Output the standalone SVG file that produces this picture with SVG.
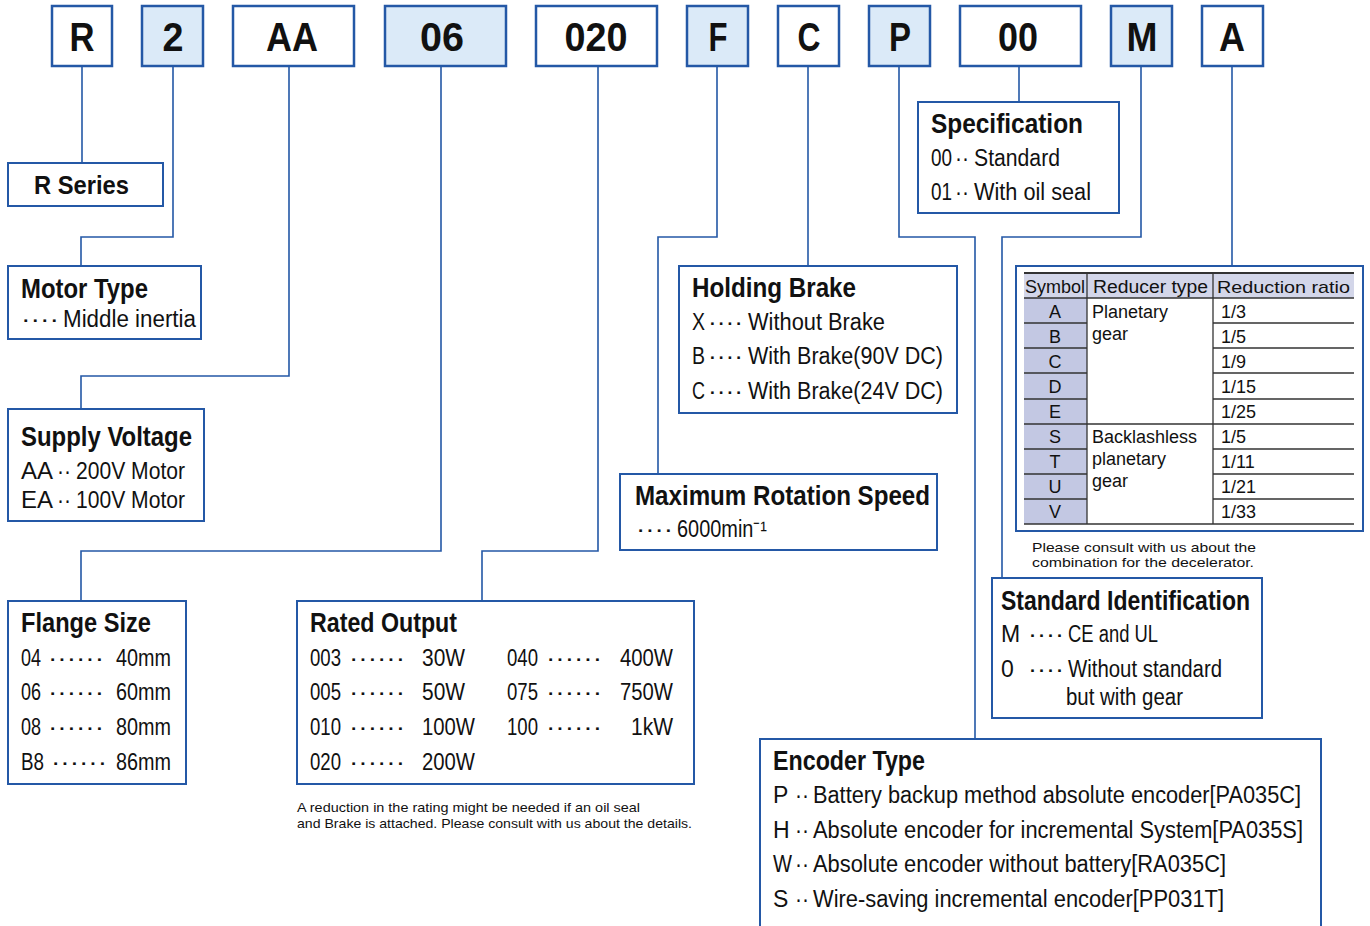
<svg xmlns="http://www.w3.org/2000/svg" width="1370" height="926" viewBox="0 0 1370 926">
<style>
text{font-family:"Liberation Sans",Arial,sans-serif;fill:#111}
.code{font-size:40px;font-weight:bold;text-anchor:middle}
.t{font-size:28px;font-weight:bold}
.b{font-size:23px}
.s{font-size:13px}
.tb{font-size:18px}
.box{fill:#fff;stroke:#2458a6;stroke-width:2}
.cb{fill:#fff;stroke:#2458a6;stroke-width:2.5}
.cbf{fill:#dbeaf8;stroke:#2458a6;stroke-width:2.5}
.con{fill:none;stroke:#2458a6;stroke-width:1.6}
.tl{stroke:#333;stroke-width:1.3}
.sym{text-anchor:middle}
</style>
<rect width="1370" height="926" fill="#fff"/>
<g id="connectors">
<polyline class="con" points="82,66 82,162"/>
<polyline class="con" points="173,66 173,237 81,237 81,266"/>
<polyline class="con" points="289,66 289,376 81,376 81,409"/>
<polyline class="con" points="441,66 441,551 81,551 81,601"/>
<polyline class="con" points="598,66 598,551 482,551 482,601"/>
<polyline class="con" points="717,66 717,237 658,237 658,474"/>
<polyline class="con" points="808,66 808,266"/>
<polyline class="con" points="899,66 899,237 975,237 975,739"/>
<polyline class="con" points="1019,66 1019,102"/>
<polyline class="con" points="1141,66 1141,237 1002,237 1002,578"/>
<polyline class="con" points="1232,66 1232,266"/>
</g>
<g id="code-R"><rect class="cb" x="52" y="6" width="60" height="60"/><text class="code" x="82" y="51" textLength="25" lengthAdjust="spacingAndGlyphs">R</text></g>
<g id="code-2"><rect class="cbf" x="142" y="6" width="61" height="60"/><text class="code" x="173" y="51" textLength="21" lengthAdjust="spacingAndGlyphs">2</text></g>
<g id="code-AA"><rect class="cb" x="233" y="6" width="121" height="60"/><text class="code" x="292" y="51" textLength="52" lengthAdjust="spacingAndGlyphs">AA</text></g>
<g id="code-06"><rect class="cbf" x="385" y="6" width="121" height="60"/><text class="code" x="442" y="51" textLength="44" lengthAdjust="spacingAndGlyphs">06</text></g>
<g id="code-020"><rect class="cb" x="536" y="6" width="121" height="60"/><text class="code" x="596" y="51" textLength="63" lengthAdjust="spacingAndGlyphs">020</text></g>
<g id="code-F"><rect class="cbf" x="687" y="6" width="61" height="60"/><text class="code" x="718" y="51" textLength="19" lengthAdjust="spacingAndGlyphs">F</text></g>
<g id="code-C"><rect class="cb" x="778" y="6" width="61" height="60"/><text class="code" x="809" y="51" textLength="23" lengthAdjust="spacingAndGlyphs">C</text></g>
<g id="code-P"><rect class="cbf" x="869" y="6" width="61" height="60"/><text class="code" x="900" y="51" textLength="22" lengthAdjust="spacingAndGlyphs">P</text></g>
<g id="code-00"><rect class="cb" x="960" y="6" width="121" height="60"/><text class="code" x="1018" y="51" textLength="40" lengthAdjust="spacingAndGlyphs">00</text></g>
<g id="code-M"><rect class="cbf" x="1111" y="6" width="61" height="60"/><text class="code" x="1142" y="51" textLength="31" lengthAdjust="spacingAndGlyphs">M</text></g>
<g id="code-A"><rect class="cb" x="1202" y="6" width="61" height="60"/><text class="code" x="1232" y="51" textLength="26" lengthAdjust="spacingAndGlyphs">A</text></g>

<g id="r-series"><rect class="box" x="8" y="163" width="155" height="43"/><text class="t" x="34" y="194" style="font-size:25px" textLength="95" lengthAdjust="spacingAndGlyphs">R Series</text></g>

<g id="motor-type"><rect class="box" x="8" y="266" width="193" height="73"/>
<text class="t" x="21" y="298" textLength="127" lengthAdjust="spacingAndGlyphs">Motor Type</text>
<text class="b" x="21" y="327" textLength="38" lengthAdjust="spacingAndGlyphs">····</text>
<text class="b" x="63" y="327" textLength="133" lengthAdjust="spacingAndGlyphs">Middle inertia</text></g>

<g id="supply-voltage"><rect class="box" x="8" y="409" width="196" height="112"/>
<text class="t" x="21" y="446" textLength="171" lengthAdjust="spacingAndGlyphs">Supply Voltage</text>
<text class="b" x="21" y="479" textLength="32" lengthAdjust="spacingAndGlyphs">AA</text>
<text class="b" x="57" y="479" textLength="14" lengthAdjust="spacingAndGlyphs">··</text>
<text class="b" x="76" y="479" textLength="109" lengthAdjust="spacingAndGlyphs">200V Motor</text>
<text class="b" x="21" y="508" textLength="32" lengthAdjust="spacingAndGlyphs">EA</text>
<text class="b" x="57" y="508" textLength="14" lengthAdjust="spacingAndGlyphs">··</text>
<text class="b" x="76" y="508" textLength="109" lengthAdjust="spacingAndGlyphs">100V Motor</text></g>

<g id="flange-size"><rect class="box" x="8" y="601" width="178" height="183"/>
<text class="t" x="21" y="632" textLength="130" lengthAdjust="spacingAndGlyphs">Flange Size</text>
<text class="b" x="21" y="666" textLength="20" lengthAdjust="spacingAndGlyphs">04</text><text class="b" x="48" y="666" textLength="56" lengthAdjust="spacingAndGlyphs">······</text><text class="b" x="116" y="666" textLength="55" lengthAdjust="spacingAndGlyphs">40mm</text>
<text class="b" x="21" y="700" textLength="20" lengthAdjust="spacingAndGlyphs">06</text><text class="b" x="48" y="700" textLength="56" lengthAdjust="spacingAndGlyphs">······</text><text class="b" x="116" y="700" textLength="55" lengthAdjust="spacingAndGlyphs">60mm</text>
<text class="b" x="21" y="735" textLength="20" lengthAdjust="spacingAndGlyphs">08</text><text class="b" x="48" y="735" textLength="56" lengthAdjust="spacingAndGlyphs">······</text><text class="b" x="116" y="735" textLength="55" lengthAdjust="spacingAndGlyphs">80mm</text>
<text class="b" x="21" y="770" textLength="23" lengthAdjust="spacingAndGlyphs">B8</text><text class="b" x="51" y="770" textLength="56" lengthAdjust="spacingAndGlyphs">······</text><text class="b" x="116" y="770" textLength="55" lengthAdjust="spacingAndGlyphs">86mm</text></g>

<g id="rated-output"><rect class="box" x="297" y="601" width="397" height="183"/>
<text class="t" x="310" y="632" textLength="147" lengthAdjust="spacingAndGlyphs">Rated Output</text>
<text class="b" x="310" y="666" textLength="31" lengthAdjust="spacingAndGlyphs">003</text><text class="b" x="349" y="666" textLength="56" lengthAdjust="spacingAndGlyphs">······</text><text class="b" x="422" y="666" textLength="43" lengthAdjust="spacingAndGlyphs">30W</text>
<text class="b" x="310" y="700" textLength="31" lengthAdjust="spacingAndGlyphs">005</text><text class="b" x="349" y="700" textLength="56" lengthAdjust="spacingAndGlyphs">······</text><text class="b" x="422" y="700" textLength="43" lengthAdjust="spacingAndGlyphs">50W</text>
<text class="b" x="310" y="735" textLength="31" lengthAdjust="spacingAndGlyphs">010</text><text class="b" x="349" y="735" textLength="56" lengthAdjust="spacingAndGlyphs">······</text><text class="b" x="422" y="735" textLength="53" lengthAdjust="spacingAndGlyphs">100W</text>
<text class="b" x="310" y="770" textLength="31" lengthAdjust="spacingAndGlyphs">020</text><text class="b" x="349" y="770" textLength="56" lengthAdjust="spacingAndGlyphs">······</text><text class="b" x="422" y="770" textLength="53" lengthAdjust="spacingAndGlyphs">200W</text>
<text class="b" x="507" y="666" textLength="31" lengthAdjust="spacingAndGlyphs">040</text><text class="b" x="546" y="666" textLength="56" lengthAdjust="spacingAndGlyphs">······</text><text class="b" x="620" y="666" textLength="53" lengthAdjust="spacingAndGlyphs">400W</text>
<text class="b" x="507" y="700" textLength="31" lengthAdjust="spacingAndGlyphs">075</text><text class="b" x="546" y="700" textLength="56" lengthAdjust="spacingAndGlyphs">······</text><text class="b" x="620" y="700" textLength="53" lengthAdjust="spacingAndGlyphs">750W</text>
<text class="b" x="507" y="735" textLength="31" lengthAdjust="spacingAndGlyphs">100</text><text class="b" x="546" y="735" textLength="56" lengthAdjust="spacingAndGlyphs">······</text><text class="b" x="631" y="735" textLength="42" lengthAdjust="spacingAndGlyphs">1kW</text></g>

<g id="rated-note">
<text class="s" x="297" y="812" textLength="343" lengthAdjust="spacingAndGlyphs">A reduction in the rating might be needed if an oil seal</text>
<text class="s" x="297" y="828" textLength="395" lengthAdjust="spacingAndGlyphs">and Brake is attached. Please consult with us about the details.</text></g>

<g id="holding-brake"><rect class="box" x="679" y="266" width="278" height="147"/>
<text class="t" x="692" y="297" textLength="164" lengthAdjust="spacingAndGlyphs">Holding Brake</text>
<text class="b" x="692" y="330" textLength="13" lengthAdjust="spacingAndGlyphs">X</text><text class="b" x="708" y="330" textLength="35" lengthAdjust="spacingAndGlyphs">····</text><text class="b" x="748" y="330" textLength="137" lengthAdjust="spacingAndGlyphs">Without Brake</text>
<text class="b" x="692" y="364" textLength="13" lengthAdjust="spacingAndGlyphs">B</text><text class="b" x="708" y="364" textLength="35" lengthAdjust="spacingAndGlyphs">····</text><text class="b" x="748" y="364" textLength="195" lengthAdjust="spacingAndGlyphs">With Brake(90V DC)</text>
<text class="b" x="692" y="399" textLength="13" lengthAdjust="spacingAndGlyphs">C</text><text class="b" x="708" y="399" textLength="35" lengthAdjust="spacingAndGlyphs">····</text><text class="b" x="748" y="399" textLength="195" lengthAdjust="spacingAndGlyphs">With Brake(24V DC)</text></g>

<g id="max-speed"><rect class="box" x="620" y="474" width="317" height="76"/>
<text class="t" x="635" y="505" textLength="295" lengthAdjust="spacingAndGlyphs">Maximum Rotation Speed</text>
<text class="b" x="636" y="537" textLength="37" lengthAdjust="spacingAndGlyphs">····</text><text class="b" x="677" y="537" textLength="90" lengthAdjust="spacingAndGlyphs">6000min⁻¹</text></g>

<g id="specification"><rect class="box" x="918" y="102" width="201" height="111"/>
<text class="t" x="931" y="133" textLength="152" lengthAdjust="spacingAndGlyphs">Specification</text>
<text class="b" x="931" y="166" textLength="21" lengthAdjust="spacingAndGlyphs">00</text><text class="b" x="955" y="166" textLength="14" lengthAdjust="spacingAndGlyphs">··</text><text class="b" x="974" y="166" textLength="86" lengthAdjust="spacingAndGlyphs">Standard</text>
<text class="b" x="931" y="200" textLength="21" lengthAdjust="spacingAndGlyphs">01</text><text class="b" x="955" y="200" textLength="14" lengthAdjust="spacingAndGlyphs">··</text><text class="b" x="974" y="200" textLength="117" lengthAdjust="spacingAndGlyphs">With oil seal</text></g>

<g id="reducer-table"><rect class="box" x="1016" y="266" width="347" height="265"/>
<rect x="1024" y="273" width="330" height="25" fill="#d3d6e9"/>
<rect x="1024" y="298" width="63" height="226" fill="#c3c8e3"/>
<line class="tl" x1="1024" y1="273" x2="1354" y2="273" style="stroke-width:2"/>
<line class="tl" x1="1024" y1="298" x2="1354" y2="298"/>
<line class="tl" x1="1024" y1="424" x2="1354" y2="424"/>
<line class="tl" x1="1024" y1="524" x2="1354" y2="524" style="stroke-width:1.6"/>
<line class="tl" x1="1087" y1="273" x2="1087" y2="524"/>
<line class="tl" x1="1213" y1="273" x2="1213" y2="524"/>
<path class="tl" fill="none" d="M1024 323H1087M1024 348H1087M1024 373H1087M1024 399H1087M1024 449H1087M1024 474H1087M1024 499H1087M1213 323H1354M1213 348H1354M1213 373H1354M1213 399H1354M1213 449H1354M1213 474H1354M1213 499H1354"/>
<text class="tb" x="1025" y="293" textLength="60" lengthAdjust="spacingAndGlyphs">Symbol</text>
<text class="tb" x="1093" y="293" textLength="115" lengthAdjust="spacingAndGlyphs">Reducer type</text>
<text class="tb" x="1217" y="293" style="font-size:17px" textLength="133" lengthAdjust="spacingAndGlyphs">Reduction ratio</text>
<text class="tb sym" x="1055" y="318">A</text><text class="tb sym" x="1055" y="343">B</text><text class="tb sym" x="1055" y="368">C</text><text class="tb sym" x="1055" y="393">D</text><text class="tb sym" x="1055" y="418">E</text>
<text class="tb sym" x="1055" y="443">S</text><text class="tb sym" x="1055" y="468">T</text><text class="tb sym" x="1055" y="493">U</text><text class="tb sym" x="1055" y="518">V</text>
<text class="tb" x="1092" y="318">Planetary</text><text class="tb" x="1092" y="340">gear</text>
<text class="tb" x="1092" y="443">Backlashless</text><text class="tb" x="1092" y="465">planetary</text><text class="tb" x="1092" y="487">gear</text>
<text class="tb" x="1221" y="318">1/3</text><text class="tb" x="1221" y="343">1/5</text><text class="tb" x="1221" y="368">1/9</text><text class="tb" x="1221" y="393">1/15</text><text class="tb" x="1221" y="418">1/25</text>
<text class="tb" x="1221" y="443">1/5</text><text class="tb" x="1221" y="468">1/11</text><text class="tb" x="1221" y="493">1/21</text><text class="tb" x="1221" y="518">1/33</text></g>

<g id="table-note">
<text class="s" x="1032" y="552" textLength="224" lengthAdjust="spacingAndGlyphs">Please consult with us about the</text>
<text class="s" x="1032" y="567" textLength="222" lengthAdjust="spacingAndGlyphs">combination for the decelerator.</text></g>

<g id="standard-identification"><rect class="box" x="992" y="578" width="270" height="140"/>
<text class="t" x="1001" y="610" textLength="249" lengthAdjust="spacingAndGlyphs">Standard Identification</text>
<text class="b" x="1001" y="642">M</text><text class="b" x="1028" y="642" textLength="36" lengthAdjust="spacingAndGlyphs">····</text><text class="b" x="1068" y="642" textLength="90" lengthAdjust="spacingAndGlyphs">CE and UL</text>
<text class="b" x="1001" y="677">0</text><text class="b" x="1028" y="677" textLength="36" lengthAdjust="spacingAndGlyphs">····</text><text class="b" x="1068" y="677" textLength="154" lengthAdjust="spacingAndGlyphs">Without standard</text>
<text class="b" x="1066" y="705" textLength="117" lengthAdjust="spacingAndGlyphs">but with gear</text></g>

<g id="encoder-type"><rect class="box" x="760" y="739" width="561" height="200"/>
<text class="t" x="773" y="770" textLength="152" lengthAdjust="spacingAndGlyphs">Encoder Type</text>
<text class="b" x="773" y="803">P</text><text class="b" x="795" y="803" textLength="14" lengthAdjust="spacingAndGlyphs">··</text><text class="b" x="813" y="803" textLength="488" lengthAdjust="spacingAndGlyphs">Battery backup method absolute encoder[PA035C]</text>
<text class="b" x="773" y="838">H</text><text class="b" x="795" y="838" textLength="14" lengthAdjust="spacingAndGlyphs">··</text><text class="b" x="813" y="838" textLength="490" lengthAdjust="spacingAndGlyphs">Absolute encoder for incremental System[PA035S]</text>
<text class="b" x="773" y="872" textLength="19" lengthAdjust="spacingAndGlyphs">W</text><text class="b" x="795" y="872" textLength="14" lengthAdjust="spacingAndGlyphs">··</text><text class="b" x="813" y="872" textLength="413" lengthAdjust="spacingAndGlyphs">Absolute encoder without battery[RA035C]</text>
<text class="b" x="773" y="907">S</text><text class="b" x="795" y="907" textLength="14" lengthAdjust="spacingAndGlyphs">··</text><text class="b" x="813" y="907" textLength="411" lengthAdjust="spacingAndGlyphs">Wire-saving incremental encoder[PP031T]</text></g>
</svg>
